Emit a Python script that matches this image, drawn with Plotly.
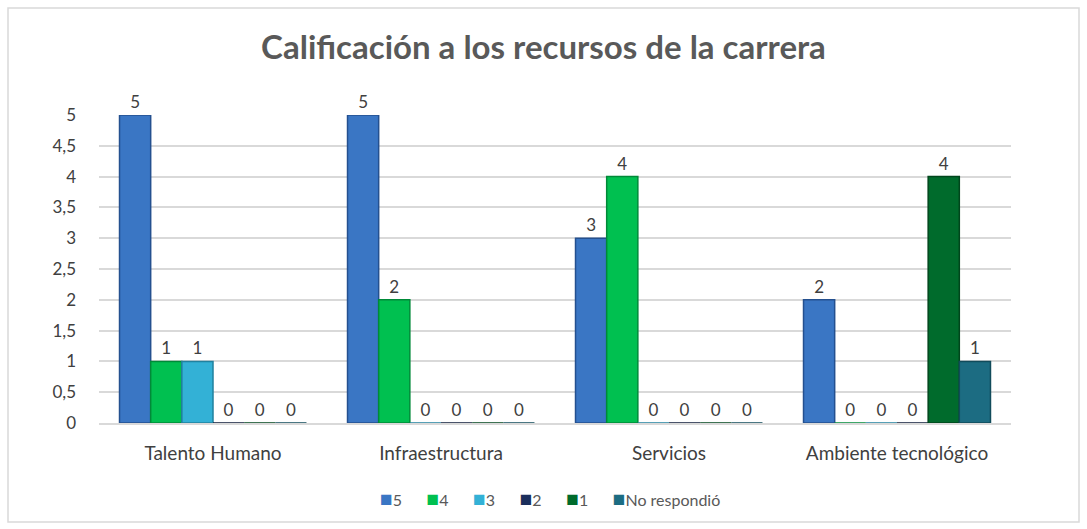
import plotly.graph_objects as go

categories = ["Talento Humano", "Infraestructura", "Servicios", "Ambiente tecnológico"]
series_names = ["5", "4", "3", "2", "1", "No respondió"]
v5 = [5, 5, 3, 2]
v4 = [1, 2, 4, 0]
v3 = [1, 0, 0, 0]
v2 = [0, 0, 0, 0]
v1 = [0, 0, 0, 4]
v_nr = [0, 0, 0, 1]
series_values = [v5, v4, v3, v2, v1, v_nr]
colors = ["#3A76C4", "#00C050", "#33B1D6", "#1B2F5C", "#006B2C", "#1C6C82"]
edge_colors = ["#24508F", "#008A38", "#21819F", "#0F1C3A", "#00461C", "#114B5B"]

W, H = 1087, 529
ml, mr, mt, mb = 99, 76, 115, 106
FONT = "Lato"

fig = go.Figure()
for name, vals, c, ec in zip(series_names, series_values, colors, edge_colors):
    fig.add_trace(go.Bar(
        x=categories, y=vals, name=name, showlegend=False,
        marker=dict(color=c, line=dict(color=ec, width=1.5)),
        text=[str(v) for v in vals], textposition="outside",
        textfont=dict(family=FONT, size=17, color="#404040"),
        cliponaxis=False,
    ))

# legend drawn as one text line built from the series names and colours
gap = "\u00a0" * 6
legend_text = gap.join(
    f"<span style='color:{c};font-size:21px'>■</span>{n}" for n, c in zip(series_names, colors)
)
fig.add_annotation(text=legend_text, xref="paper", yref="paper",
                   x=(549.5 - ml) / (W - ml - mr), xanchor="center",
                   y=(H - mb - 497) / (H - mt - mb), yanchor="middle",
                   showarrow=False, font=dict(family=FONT, size=16, color="#595959"))

pw = W - ml - mr
ph = H - mt - mb
fig.add_shape(type="rect", xref="paper", yref="paper",
              x0=(8 - ml) / pw, x1=(1079 - ml) / pw,
              y0=(H - mb - 522) / ph, y1=(H - mb - 8) / ph,
              line=dict(color="#D9D9D9", width=1.5), fillcolor="rgba(0,0,0,0)", layer="below")

fig.update_layout(
    width=W, height=H,
    margin=dict(l=ml, r=mr, t=mt, b=mb),
    paper_bgcolor="white", plot_bgcolor="white",
    separators=",.",
    barmode="group", bargap=0.18, bargroupgap=0.0,
    font=dict(family=FONT, color="#404040"),
    showlegend=False,
    title=dict(text="<b>Calificación a los recursos de la carrera</b>",
               x=0.5, xref="container", xanchor="center",
               y=1 - 47 / H, yref="container", yanchor="middle",
               font=dict(family=FONT, size=33, color="#595959")),
    xaxis=dict(showgrid=False, showline=True, linecolor="#D9D9D9", linewidth=1.5,
               tickfont=dict(family=FONT, size=19, color="#404040"), ticks="",
               ticklabelstandoff=12),
    yaxis=dict(range=[0, 5], dtick=0.5, showgrid=True, gridcolor="#D9D9D9", gridwidth=1.5,
               zeroline=False, ticks="",
               tickfont=dict(family=FONT, size=17, color="#404040"),
               ticklabelstandoff=22),
)

fig.write_html("out.html", config={"displayModeBar": False},
               post_script="document.body.style.margin='0';")
